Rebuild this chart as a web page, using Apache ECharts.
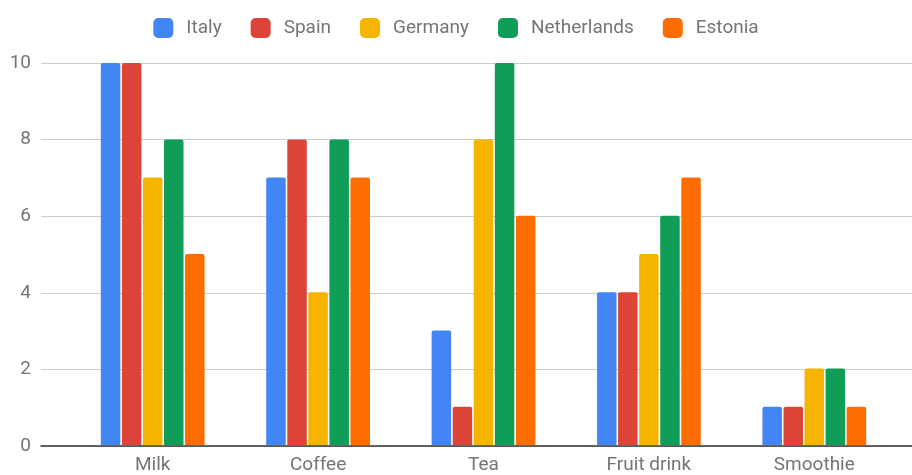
<!DOCTYPE html>
<html>
<head>
<meta charset="utf-8">
<script src="https://cdn.jsdelivr.net/npm/echarts@6/dist/echarts.min.js"></script>
<style>
  html, body { margin: 0; padding: 0; background: #fff; }
  #main { width: 912px; height: 475px; }
</style>
</head>
<body>
<div id="main"></div>
<script>
const categories = ['Milk', 'Coffee', 'Tea', 'Fruit drink', 'Smoothie'];
const italy = [10, 7, 3, 4, 1];
const spain = [10, 8, 1, 4, 1];
const germany = [7, 4, 8, 5, 2];
const netherlands = [8, 8, 10, 6, 2];
const estonia = [5, 7, 6, 7, 1];
const yTicks = [0, 2, 4, 6, 8, 10];

const seriesNames = ['Italy', 'Spain', 'Germany', 'Netherlands', 'Estonia'];
const seriesData = [italy, spain, germany, netherlands, estonia];
const colors = ['#4285F4', '#DB4437', '#F4B400', '#0F9D58', '#FF6D00'];

var myChart = echarts.init(document.getElementById('main'));

var option = {
    color: colors,
    textStyle: { fontFamily: 'Roboto' },
    legend: {
        top: 13,
        left: 'center',
        icon: 'roundRect',
        itemWidth: 20,
        itemHeight: 20,
        itemGap: 29,
        data: seriesNames,
        textStyle: { fontSize: 19, color: '#757575', padding: [0, 0, 0, 8] }
    },
    grid: [
        { left: 41, right: 0, top: 63, bottom: 29 },
        { left: 70, right: 15, top: 63, bottom: 29 }
    ],
    xAxis: [
        {
            gridIndex: 0, type: 'value', min: 0, max: 1,
            axisLine: { show: true, lineStyle: { color: '#333', width: 1.5 } },
            axisTick: { show: false }, axisLabel: { show: false },
            splitLine: { show: false }
        },
        {
            gridIndex: 1, type: 'category', data: categories,
            axisLine: { show: false }, axisTick: { show: false },
            axisLabel: { fontSize: 19, color: '#757575', margin: 11 }
        }
    ],
    yAxis: [
        {
            gridIndex: 0, type: 'value', min: yTicks[0], max: yTicks[yTicks.length - 1], interval: 2,
            axisLine: { show: false }, axisTick: { show: false },
            axisLabel: { fontSize: 19, color: '#757575', margin: 10 },
            splitLine: { lineStyle: { color: '#cccccc', width: 1 } }
        },
        {
            gridIndex: 1, type: 'value', min: 0, max: 10, show: false
        }
    ],
    series: seriesNames.map(function (name, i) {
        return {
            name: name,
            type: 'bar',
            xAxisIndex: 1,
            yAxisIndex: 1,
            barWidth: 19.5,
            barGap: '8%',
            data: seriesData[i],
            itemStyle: { borderRadius: [2, 2, 0, 0] }
        };
    })
};

myChart.setOption(option);
</script>
</body>
</html>
